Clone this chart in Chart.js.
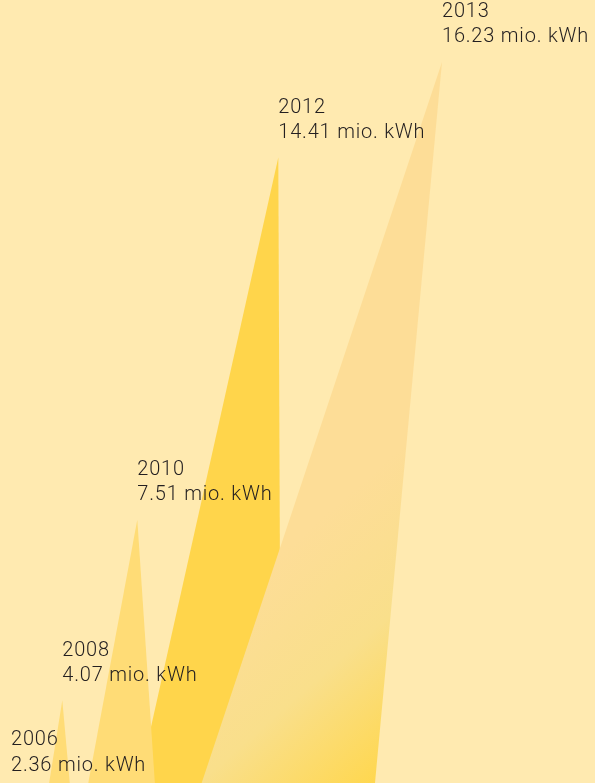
<!DOCTYPE html>
<html>
<head>
<meta charset="utf-8">
<script src="https://cdn.jsdelivr.net/npm/chart.js@4.4.1/dist/chart.umd.min.js"></script>
<style>
  html, body { margin: 0; padding: 0; background: #FFEAB0; overflow: hidden; width: 595px; height: 783px; }
  #wrap { position: absolute; left: 0; top: 0; width: 595px; height: 914px; }
</style>
</head>
<body>
<div id="wrap"><canvas id="c" width="595" height="914"></canvas></div>
<script>
// ---- data ----
const years  = ['2006', '2008', '2010', '2012', '2013'];
const values = [2.36, 4.07, 7.51, 14.41, 16.23];
const unit   = 'mio. kWh';

// ---- layout (x positions of each spike on a 0..595 horizontal axis) ----
const apexX      = [11, 62.3, 137.3, 278.3, 442];
const baseLeftX  = [-8, 28.3, 63.9, 109.2, 158];
const baseRightX = [21, 81.6, 163.6, 281.3, 362.8];

// ---- styles ----
const spikeColors = ['#FFDC76', '#FFDC76', '#FFDC76', '#FFD54B', null];
const drawOrder   = [2, 2, 1, 5, 0];
const yMax = 17.41;

function gradient2013(ctx) {
  const c = ctx.chart.ctx;
  const g = c.createLinearGradient(222, 605, 378, 783);
  g.addColorStop(0, '#FDDD97');
  g.addColorStop(0.5, '#F9DF8B');
  g.addColorStop(1, '#FFD74E');
  return g;
}

const datasets = years.map((yr, i) => ({
  label: yr,
  data: [
    { x: baseLeftX[i], y: 0 },
    { x: apexX[i], y: values[i] },
    { x: baseRightX[i], y: 0 }
  ],
  fill: 'shape',
  backgroundColor: spikeColors[i] || gradient2013,
  borderWidth: 0,
  borderColor: 'rgba(0,0,0,0)',
  pointRadius: 0,
  tension: 0,
  order: drawOrder[i]
}));

const labelPlugin = {
  id: 'spikeLabels',
  afterDatasetsDraw(chart) {
    const c = chart.ctx;
    const xs = chart.scales.x, ys = chart.scales.y;
    c.save();
    c.fillStyle = '#231F20';
    c.font = '300 20px Roboto';
    if ('letterSpacing' in c) c.letterSpacing = '0.8px';
    c.textBaseline = 'alphabetic';
    c.textAlign = 'left';
    years.forEach((yr, i) => {
      const px = xs.getPixelForValue(apexX[i]);
      const py = ys.getPixelForValue(values[i]);
      c.fillText(yr, px, py - 19.5 - 25.3);
      c.fillText(values[i].toFixed(2) + ' ' + unit, px, py - 19.5);
    });
    c.restore();
  }
};

new Chart(document.getElementById('c'), {
  type: 'line',
  data: { datasets },
  options: {
    responsive: false,
    animation: false,
    layout: { padding: 0 },
    plugins: { legend: { display: false }, tooltip: { enabled: false } },
    scales: {
      x: { type: 'linear', min: 0, max: 595, display: false },
      y: { type: 'linear', min: 0, max: yMax, display: false }
    },
    elements: { line: { borderWidth: 0 } }
  },
  plugins: [labelPlugin]
});
</script>
</body>
</html>
